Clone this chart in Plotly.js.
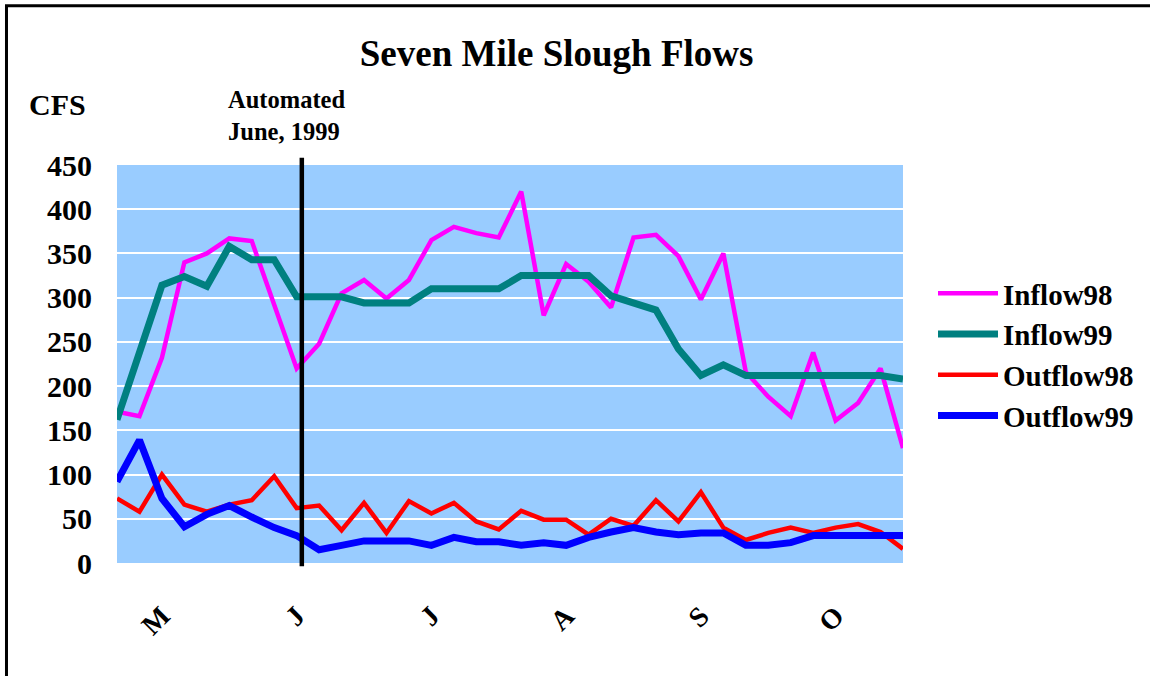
<!DOCTYPE html>
<html>
<head>
<meta charset="utf-8">
<script src="https://cdn.plot.ly/plotly-3.0.1.min.js"></script>
<style>
  html, body { margin: 0; padding: 0; background: #ffffff; }
  #chart { width: 1150px; height: 676px; }
</style>
</head>
<body>
<div id="chart"></div>
<script>
// ---- Data ----
const weeks = [1, 2, 3, 4, 5, 6, 7, 8, 9, 10, 11, 12, 13, 14, 15, 16, 17, 18,
               19, 20, 21, 22, 23, 24, 25, 26, 27, 28, 29, 30, 31, 32, 33, 34, 35, 36];
const inflow98 = [171, 166, 232, 340, 350, 367, 364, 292, 220, 248, 305, 320, 299, 320, 365, 380, 373, 368,
                  420, 280, 338, 318, 289, 368, 371, 347, 298, 350, 216, 188, 166, 238, 161, 181, 220, 130];
const inflow99 = [162, 240, 314, 324, 313, 358, 343, 343, 301, 301, 301, 294, 294, 294, 310, 310, 310, 310,
                  325, 325, 325, 325, 302, 295, 286, 242, 212, 224, 212, 212, 212, 212, 212, 212, 212, 208];
const outflow98 = [73, 58, 100, 66, 58, 66, 71, 98, 62, 65, 37, 68, 34, 70, 56, 68, 47, 38,
                   59, 49, 49, 32, 50, 42, 71, 47, 80, 40, 26, 34, 40, 34, 40, 44, 35, 16];
const outflow99 = [92, 139, 73, 41, 55, 65, 52, 40, 31, 15, 20, 25, 25, 25, 20, 29, 24, 24,
                   20, 23, 20, 29, 35, 40, 35, 32, 34, 34, 20, 20, 23, 31, 31, 31, 31, 31];
const seriesNames = ["Inflow98", "Inflow99", "Outflow98", "Outflow99"];
const monthLabels = ["M", "J", "J", "A", "S", "O"];
const monthTickWeeks = [3, 9, 15, 21, 27, 33];
const automatedWeek = 9.23;   // "Automated June, 1999" marker
const yTicks = [0, 50, 100, 150, 200, 250, 300, 350, 400, 450];

const FONT = "'Liberation Serif', 'Times New Roman', Times, serif";

const traces = [
  { x: weeks, y: inflow98, name: seriesNames[0], type: "scatter", mode: "lines",
    line: { color: "#FF00FF", width: 4.5 } },
  { x: weeks, y: inflow99, name: seriesNames[1], type: "scatter", mode: "lines",
    line: { color: "#008080", width: 7 } },
  { x: weeks, y: outflow98, name: seriesNames[2], type: "scatter", mode: "lines",
    line: { color: "#FF0000", width: 4.5 } },
  { x: weeks, y: outflow99, name: seriesNames[3], type: "scatter", mode: "lines",
    line: { color: "#0000FF", width: 7 } }
];

const layout = {
  width: 1150,
  height: 676,
  margin: { l: 117, r: 247, t: 165, b: 113 },
  paper_bgcolor: "#ffffff",
  plot_bgcolor: "#99CCFF",
  font: { family: FONT, color: "#000000", weight: "bold" },
  title: {
    text: "Seven Mile Slough Flows",
    font: { family: FONT, size: 37, color: "#000000", weight: "bold" },
    xref: "container", x: 0.484, xanchor: "center",
    yref: "container", y: 1 - 53 / 676, yanchor: "middle"
  },
  xaxis: {
    range: [weeks[0], weeks[weeks.length - 1]],
    tickmode: "array",
    tickvals: monthTickWeeks,
    ticktext: monthLabels,
    tickangle: -45,
    ticks: "",
    ticklabelstandoff: 30,
    tickfont: { family: FONT, size: 28, color: "#000000", weight: "bold" },
    showgrid: false,
    zeroline: false,
    showline: false,
    fixedrange: true
  },
  yaxis: {
    range: [0, 450],
    tickmode: "array",
    tickvals: yTicks,
    ticks: "",
    ticklabelstandoff: 24,
    tickfont: { family: FONT, size: 30, color: "#000000", weight: "bold" },
    showgrid: true,
    gridcolor: "#ffffff",
    gridwidth: 2,
    zeroline: false,
    showline: false,
    fixedrange: true
  },
  legend: {
    xref: "container", yref: "container",
    x: 933 / 1150, xanchor: "left",
    y: 1 - 268 / 676, yanchor: "top",
    itemwidth: 60,
    bgcolor: "rgba(0,0,0,0)",
    borderwidth: 0,
    font: { family: FONT, size: 29, color: "#000000", weight: "bold" }
  },
  annotations: [
    { text: "CFS", xref: "paper", yref: "paper",
      x: (57.5 - 117) / 786, y: 1 + (165 - 104) / 398,
      xanchor: "center", yanchor: "middle", showarrow: false,
      font: { family: FONT, size: 30, color: "#000000", weight: "bold" } },
    { text: "Automated<br>June, 1999", xref: "paper", yref: "paper",
      x: (286 - 117) / 786, y: 1 + (165 - 116) / 398,
      xanchor: "center", yanchor: "middle", align: "left", showarrow: false,
      font: { family: FONT, size: 24.5, color: "#000000", weight: "bold" } }
  ],
  shapes: [
    // vertical marker line
    { type: "line", xref: "x", yref: "paper",
      x0: automatedWeek, x1: automatedWeek, y0: -0.008, y1: 1.018,
      line: { color: "#000000", width: 4.5 }, layer: "above" },
    // outer chart border (left and top visible)
    { type: "path", xref: "paper", yref: "paper",
      path: "M -0.1406 -0.4 L -0.1406 1.4003 L 1.4 1.4003",
      line: { color: "#000000", width: 3 }, layer: "above" }
  ],
  showlegend: true
};

Plotly.newPlot("chart", traces, layout, { staticPlot: true, displayModeBar: false });
</script>
</body>
</html>
